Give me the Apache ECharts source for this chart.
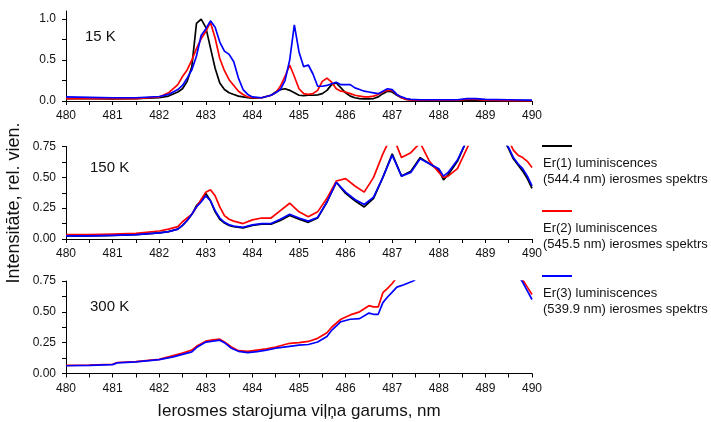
<!DOCTYPE html>
<html>
<head>
<meta charset="utf-8">
<script src="https://cdn.jsdelivr.net/npm/echarts@6/dist/echarts.min.js"></script>
<style>html,body{margin:0;padding:0;background:#fff}#c{width:711px;height:422px}</style>
</head>
<body>
<div id="c"></div>
<script>
// ---- data (wavelength, nm; intensity, rel. units) ----
const xTicks = [480, 481, 482, 483, 484, 485, 486, 487, 488, 489, 490];
const seriesNames = [
  'Er(1) luminiscences\n(544.4 nm) ierosmes spektrs',
  'Er(2) luminiscences\n(545.5 nm) ierosmes spektrs',
  'Er(3) luminiscences\n(539.9 nm) ierosmes spektrs'
];
const panelLabels = ['15 K', '150 K', '300 K'];

// Panel 1: 15 K
const p1X = [480,480.5,481,481.5,482,482.2,482.4,482.5,482.6,482.7,482.8,482.9,483.0,483.1,483.2,483.3,483.4,483.5,483.6,483.7,483.8,483.9,484.0,484.2,484.4,484.5,484.6,484.7,484.8,484.9,485.0,485.1,485.2,485.3,485.4,485.5,485.6,485.7,485.8,485.9,486.0,486.1,486.2,486.3,486.4,486.5,486.6,486.7,486.8,486.9,487.0,487.1,487.2,487.3,487.4,487.6,488.0,488.4,488.6,488.8,489.0,489.5,490];
const p1Black = [0.03,0.03,0.025,0.03,0.04,0.06,0.11,0.15,0.24,0.42,0.95,1.0,0.9,0.65,0.4,0.22,0.14,0.1,0.08,0.06,0.05,0.04,0.035,0.04,0.07,0.11,0.14,0.15,0.13,0.1,0.07,0.065,0.07,0.07,0.075,0.09,0.13,0.2,0.22,0.16,0.1,0.06,0.04,0.03,0.025,0.025,0.03,0.05,0.09,0.12,0.11,0.07,0.04,0.02,0.015,0.01,0.01,0.01,0.01,0.01,0.01,0.005,0.0];
const p1Red = [0.03,0.03,0.03,0.03,0.05,0.1,0.2,0.3,0.38,0.5,0.64,0.76,0.85,0.96,0.77,0.52,0.37,0.26,0.19,0.12,0.08,0.05,0.04,0.04,0.07,0.1,0.18,0.3,0.44,0.3,0.15,0.09,0.08,0.09,0.13,0.24,0.28,0.23,0.15,0.12,0.11,0.09,0.07,0.06,0.05,0.05,0.06,0.08,0.11,0.13,0.13,0.08,0.04,0.02,0.01,0.01,0.01,0.01,0.02,0.02,0.01,0.005,0.0];
const p1Blue = [0.05,0.045,0.04,0.04,0.055,0.08,0.14,0.19,0.28,0.38,0.55,0.8,0.88,0.98,0.9,0.72,0.61,0.57,0.48,0.28,0.14,0.08,0.05,0.04,0.07,0.1,0.14,0.25,0.5,0.93,0.6,0.42,0.44,0.33,0.18,0.18,0.19,0.21,0.23,0.2,0.2,0.2,0.16,0.14,0.12,0.11,0.1,0.09,0.12,0.15,0.14,0.08,0.05,0.03,0.02,0.015,0.015,0.015,0.03,0.03,0.02,0.015,0.01];

// Panel 2: 150 K
const p2X = [480,480.5,481,481.5,482,482.2,482.4,482.5,482.6,482.7,482.8,482.9,483.0,483.1,483.2,483.3,483.4,483.5,483.6,483.8,484.0,484.2,484.4,484.6,484.8,485.0,485.2,485.4,485.6,485.8,486.0,486.2,486.4,486.6,486.8,487.0,487.2,487.4,487.6,487.8,488.0,488.1,488.2,488.4,488.6,488.8,489.0,489.2,489.4,489.5,489.6,489.7,489.8,489.9,490];
const p2Black = [0.025,0.025,0.03,0.035,0.05,0.06,0.08,0.11,0.15,0.2,0.27,0.31,0.37,0.31,0.22,0.16,0.13,0.11,0.1,0.09,0.11,0.12,0.12,0.15,0.19,0.16,0.135,0.17,0.3,0.46,0.37,0.31,0.26,0.33,0.5,0.69,0.51,0.55,0.66,0.61,0.56,0.48,0.52,0.63,0.8,0.95,1.0,0.95,0.8,0.73,0.65,0.6,0.55,0.49,0.41];
const p2Red = [0.035,0.035,0.04,0.045,0.065,0.08,0.1,0.14,0.17,0.2,0.26,0.32,0.38,0.4,0.35,0.26,0.19,0.16,0.145,0.125,0.155,0.17,0.17,0.23,0.29,0.22,0.18,0.22,0.33,0.47,0.49,0.43,0.38,0.5,0.69,0.85,0.66,0.7,0.78,0.63,0.54,0.5,0.51,0.57,0.73,0.9,1.0,0.95,0.85,0.8,0.72,0.68,0.66,0.63,0.58];
const p2Blue = [0.025,0.025,0.03,0.035,0.05,0.06,0.08,0.11,0.15,0.2,0.26,0.3,0.35,0.31,0.23,0.17,0.135,0.115,0.105,0.095,0.115,0.125,0.125,0.16,0.2,0.17,0.145,0.175,0.3,0.46,0.38,0.32,0.28,0.34,0.5,0.68,0.51,0.54,0.65,0.61,0.57,0.51,0.54,0.64,0.8,0.95,1.0,0.95,0.8,0.74,0.66,0.61,0.57,0.51,0.43];

// Panel 3: 300 K
const p3X = [480,480.5,481,481.1,481.5,482,482.3,482.5,482.7,482.8,483.0,483.15,483.3,483.4,483.55,483.7,483.9,484.1,484.3,484.5,484.8,485.0,485.2,485.4,485.6,485.7,485.9,486.1,486.3,486.5,486.6,486.7,486.8,486.9,487.0,487.1,487.25,487.45,487.8,488.2,488.7,489.2,489.6,489.8,489.9,490];
const p3Red = [0.066,0.069,0.075,0.089,0.097,0.115,0.145,0.165,0.19,0.22,0.262,0.272,0.278,0.255,0.215,0.185,0.18,0.19,0.2,0.215,0.245,0.25,0.26,0.285,0.33,0.375,0.44,0.475,0.5,0.55,0.54,0.54,0.655,0.69,0.73,0.78,0.85,0.9,0.95,1.0,1.0,0.95,0.85,0.76,0.7,0.64];
const p3Blue = [0.063,0.066,0.072,0.086,0.094,0.112,0.135,0.155,0.175,0.21,0.255,0.262,0.27,0.25,0.205,0.18,0.17,0.178,0.19,0.205,0.22,0.23,0.235,0.255,0.3,0.35,0.42,0.44,0.445,0.49,0.48,0.48,0.575,0.62,0.66,0.7,0.72,0.75,0.85,0.95,1.0,0.95,0.85,0.74,0.67,0.6];

const colors = ['#000000', '#ff0000', '#0000ff'];
const FONT = '"Liberation Sans", Arial, Helvetica, sans-serif';
const TXT = '#111111';

function zip(xs, ys) { return xs.map((x, i) => [x, ys[i]]); }

const grids = [
  { left: 66, right: 179, top: 11, height: 90 },
  { left: 66, right: 179, top: 146.5, height: 92.5 },
  { left: 66, right: 179, top: 281, height: 92.5 }
];

function xAxisCfg(i) {
  return {
    type: 'value', gridIndex: i, min: 480, max: 490, interval: 1,
    axisLine: { show: true, onZero: false, lineStyle: { color: '#000', width: 1 } },
    axisTick: { show: true, length: 4, lineStyle: { color: '#000' } },
    minorTick: { show: true, splitNumber: 2, length: 4, lineStyle: { color: '#000' } },
    splitLine: { show: false },
    axisLabel: { fontSize: 12, fontFamily: FONT, color: TXT, margin: 9, customValues: xTicks }
  };
}

const yAxes = [
  {
    type: 'value', gridIndex: 0, min: 0, max: 1.1, interval: 0.25,
    axisLine: { show: true, lineStyle: { color: '#000', width: 1 } },
    axisTick: { show: true, length: 4, lineStyle: { color: '#000' }, customValues: [0, 0.25, 0.5, 0.75, 1.0] },
    splitLine: { show: false },
    axisLabel: {
      fontSize: 12, fontFamily: FONT, color: TXT, margin: 10,
      customValues: [0, 0.5, 1.0],
      formatter: v => (Math.abs(v * 2 - Math.round(v * 2)) < 1e-6 && v <= 1.0001) ? v.toFixed(1) : ''
    }
  }
];
for (let i = 1; i < 3; i++) {
  yAxes.push({
    type: 'value', gridIndex: i, min: 0, max: 0.75, interval: 0.25,
    axisLine: { show: true, lineStyle: { color: '#000', width: 1 } },
    axisTick: { show: true, length: 4, lineStyle: { color: '#000' } },
    minorTick: { show: true, splitNumber: 2, length: 4, lineStyle: { color: '#000' } },
    splitLine: { show: false },
    axisLabel: { fontSize: 12, fontFamily: FONT, color: TXT, margin: 10, formatter: v => v.toFixed(2) }
  });
}

function lineSeries(i, name, xs, ys, color) {
  return {
    type: 'line', name: name, xAxisIndex: i, yAxisIndex: i,
    data: zip(xs, ys), showSymbol: false, symbol: 'none', clip: true,
    lineStyle: { color: color, width: 1.7 }, itemStyle: { color: color },
    silent: true, animation: false
  };
}

const series = [
  lineSeries(0, seriesNames[0], p1X, p1Black, colors[0]),
  lineSeries(0, seriesNames[1], p1X, p1Red, colors[1]),
  lineSeries(0, seriesNames[2], p1X, p1Blue, colors[2]),
  lineSeries(1, seriesNames[0], p2X, p2Black, colors[0]),
  lineSeries(1, seriesNames[1], p2X, p2Red, colors[1]),
  lineSeries(1, seriesNames[2], p2X, p2Blue, colors[2]),
  lineSeries(2, seriesNames[1], p3X, p3Red, colors[1]),
  lineSeries(2, seriesNames[2], p3X, p3Blue, colors[2])
];

const legendY = [146, 211, 276];
const graphic = [];
legendY.forEach((y, i) => {
  graphic.push({ type: 'line', shape: { x1: 542, y1: y, x2: 572, y2: y }, style: { stroke: colors[i], lineWidth: 2 }, silent: true });
  graphic.push({ type: 'text', x: 543, y: y + 9, style: { text: seriesNames[i], fontSize: 13, fontFamily: FONT, fill: TXT, lineHeight: 16, verticalAlign: 'top', align: 'left' }, silent: true });
});
const labelPos = [[85, 37], [90, 168], [90, 307]];
panelLabels.forEach((t, i) => {
  graphic.push({ type: 'text', x: labelPos[i][0], y: labelPos[i][1], style: { text: t, fontSize: 15, fontFamily: FONT, fill: TXT, verticalAlign: 'middle', align: 'left' }, silent: true });
});
graphic.push({ type: 'text', x: 299, y: 411, style: { text: 'Ierosmes starojuma viļņa garums, nm', fontSize: 17, fontFamily: FONT, fill: TXT, align: 'center', verticalAlign: 'middle' }, silent: true });
graphic.push({ type: 'text', x: 14, y: 203, rotation: Math.PI / 2, style: { text: 'Intensitāte, rel. vien.', fontSize: 18, fontFamily: FONT, fill: TXT, align: 'center', verticalAlign: 'middle' }, silent: true });

const chart = echarts.init(document.getElementById('c'), null, { renderer: 'canvas' });
chart.setOption({
  backgroundColor: '#ffffff',
  animation: false,
  grid: grids,
  xAxis: [xAxisCfg(0), xAxisCfg(1), xAxisCfg(2)],
  yAxis: yAxes,
  series: series,
  graphic: graphic
});
</script>
</body>
</html>
